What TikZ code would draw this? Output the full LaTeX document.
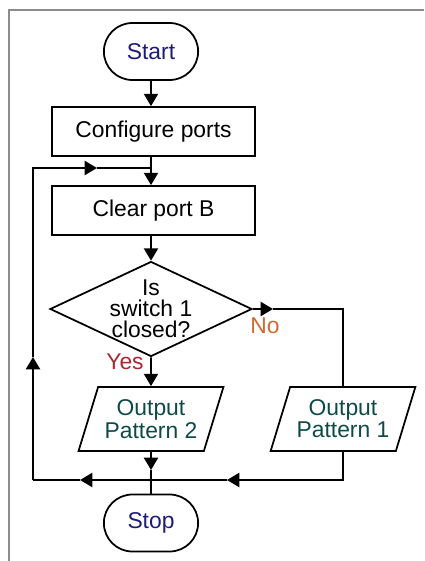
\documentclass[tikz,border=0pt]{standalone}
\usepackage{fontspec}
\setmainfont{Liberation Sans}
\usetikzlibrary{arrows.meta,shapes.geometric,shapes.misc}
\definecolor{termblue}{HTML}{1C1C78}
\definecolor{iogreen}{HTML}{0F4A4A}
\definecolor{noorange}{HTML}{D4692F}
\definecolor{yesred}{HTML}{A52A32}

\begin{document}
\begin{tikzpicture}[x=0.02cm,y=-0.02cm,>={Triangle[length=7pt,width=8pt]},
  every node/.style={font=\fontsize{13}{11.3}\selectfont,align=center},
  box/.style={draw,line width=1pt},
  terminal/.style={box,rounded rectangle,minimum width=2.12cm,minimum height=1.14cm,text=termblue},
  process/.style={box,rectangle,minimum width=4.06cm,minimum height=0.98cm},
  decision/.style={box,diamond,aspect=2.15,inner sep=-2pt,minimum width=4.04cm,minimum height=1.9cm,font=\fontsize{13}{12}\selectfont},
  io/.style={box,trapezium,trapezium left angle=69,trapezium right angle=111,trapezium stretches=true,minimum width=2.92cm,minimum height=1.28cm,text=iogreen},
  flow/.style={->,line width=1.1pt},
  wire/.style={line width=1.1pt}]
\useasboundingbox (0,0) rectangle (424,561);
\draw[black!45,line width=1.1pt] (9,561) -- (9,10) -- (424,10);
% blocks
\node[terminal] (start) at (151,51.5) {Start};
\node[process] (conf) at (153.5,131.5) {Configure ports};
\node[process] (clear) at (153.5,210.5) {Clear port B};
\node[decision] (dec) at (151,309) {Is\\switch 1\\closed?};
\node[io] (op2) at (151,419) {Output\\Pattern 2};
\node[io] (op1) at (343,419) {Output\\Pattern 1};
\node[terminal] (stop) at (151,523) {Stop};
\node[text=noorange] (no) at (265,326) {No};
\node[text=yesred] (yes) at (125,362) {Yes};
% junctions
\coordinate (j) at (151,480);
\coordinate (bl) at (33,480);
\coordinate (tj) at (151,168);
\coordinate (a1) at (227,480);
\coordinate (a2) at (80,480);
\coordinate (a3) at (33,357);
\coordinate (a4) at (97,168);
\coordinate (a5) at (151,470);
\coordinate (a6) at (273,309);
% connectors
\draw[flow] (start.south) -- (start.south |- conf.north);
\draw[flow] (tj |- conf.south) -- (tj |- clear.north);
\draw[flow] (tj |- clear.south) -- (dec.north);
\draw[flow] (dec.south) -- (op2.north);
\draw[flow] (dec.east) -- (a6);
\draw[wire] (a6) -| (op1.north);
\draw[flow] (op1.south) |- (a1);
\draw[wire] (a1) -- (j);
\draw[flow] (op2.south) -- (a5);
\draw[wire] (a5) -- (stop.north);
\draw[flow] (j) -- (a2);
\draw[wire] (a2) -- (bl);
\draw[flow] (bl) -- (a3);
\draw[flow] (a3) |- (a4);
\draw[wire] (a4) -- (tj);
\end{tikzpicture}
\end{document}
